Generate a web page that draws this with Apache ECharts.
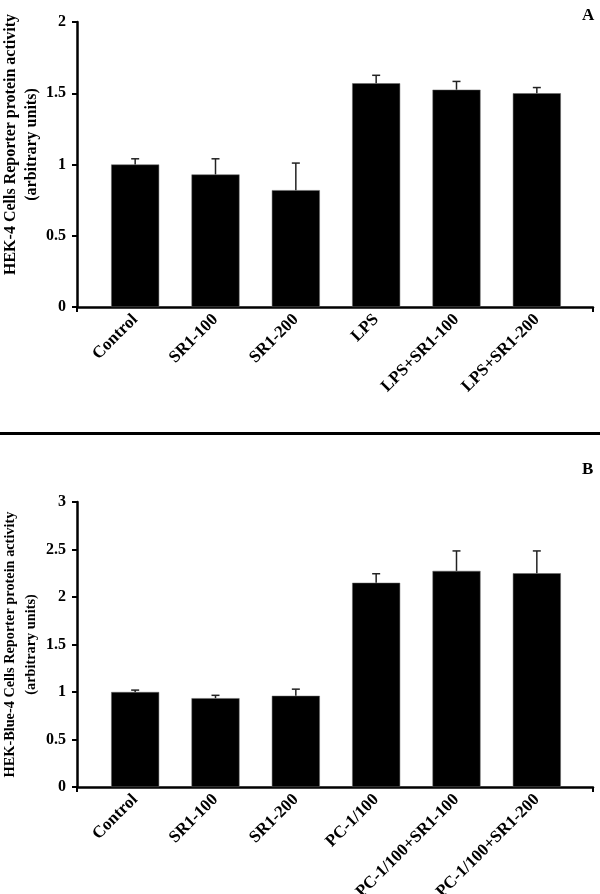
<!DOCTYPE html>
<html>
<head>
<meta charset="utf-8">
<script src="https://cdn.jsdelivr.net/npm/echarts@6/dist/echarts.min.js"></script>
<style>html,body{margin:0;padding:0;background:#fff}#c{width:600px;height:894px}</style>
</head>
<body>
<div id="c"></div>
<script>
// Panel A data
const categoriesA = ['Control', 'SR1-100', 'SR1-200', 'LPS', 'LPS+SR1-100', 'LPS+SR1-200'];
const valuesA = [1.00, 0.93, 0.82, 1.57, 1.525, 1.50];
const errorsA = [0.04, 0.11, 0.19, 0.056, 0.058, 0.04];
const yTicksA = { min: 0, max: 2, interval: 0.5 };
const yTitleA = 'HEK-4 Cells Reporter protein activity\n(arbitrary units)';

// Panel B data
const categoriesB = ['Control', 'SR1-100', 'SR1-200', 'PC-1/100', 'PC-1/100+SR1-100', 'PC-1/100+SR1-200'];
const valuesB = [1.00, 0.935, 0.96, 2.15, 2.275, 2.25];
const errorsB = [0.02, 0.03, 0.07, 0.095, 0.21, 0.235];
const yTicksB = { min: 0, max: 3, interval: 0.5 };
const yTitleB = 'HEK-Blue-4 Cells Reporter protein activity\n(arbitrary units)';

const FONT = '"Liberation Serif", "Times New Roman", serif';

function errorItem(params, api) {
  const x = api.value(0), v = api.value(1), e = api.value(2);
  const p0 = api.coord([x, v]);
  const p1 = api.coord([x, v + e]);
  const half = 4;
  const st = { stroke: '#222', lineWidth: 1.5 };
  return { type: 'group', children: [
    { type: 'line', shape: { x1: p0[0], y1: p0[1], x2: p1[0], y2: p1[1] }, style: st },
    { type: 'line', shape: { x1: p1[0] - half, y1: p1[1], x2: p1[0] + half, y2: p1[1] }, style: st }
  ]};
}

const frameX = (gi) => ({
  gridIndex: gi, type: 'value', min: 0, max: 1, interval: 1,
  axisLine: { show: true, lineStyle: { color: '#000', width: 2.5 } },
  axisTick: { show: true, length: 5, lineStyle: { color: '#000', width: 2 } },
  axisLabel: { show: false }, splitLine: { show: false }
});
const catX = (gi, cats) => ({
  gridIndex: gi, type: 'category', data: cats,
  axisLine: { show: false }, axisTick: { show: false },
  axisLabel: { interval: 0, rotate: 45, margin: 10, color: '#000', fontFamily: FONT, fontWeight: 'bold', fontSize: 17 }
});
const frameY = (gi, t, name, fs, pad) => ({
  gridIndex: gi, type: 'value', min: t.min, max: t.max, interval: t.interval,
  axisLine: { show: true, lineStyle: { color: '#000', width: 2.5 } },
  axisTick: { show: true, length: 5, lineStyle: { color: '#000', width: 2 } },
  axisLabel: { color: '#000', fontFamily: FONT, fontWeight: 'bold', fontSize: 16, margin: 11 },
  splitLine: { show: false },
  name: name, nameLocation: 'middle', nameRotate: 90, nameGap: 35, nameMoveOverlap: false,
  nameTextStyle: { color: '#000', fontFamily: FONT, fontWeight: 'bold', fontSize: fs, lineHeight: 21, padding: pad }
});
const hidY = (gi, t) => ({
  gridIndex: gi, type: 'value', min: t.min, max: t.max, interval: t.interval, show: false, splitLine: { show: false }
});

const option = {
  animation: false,
  backgroundColor: '#fff',
  grid: [
    { left: 77, top: 22, width: 516, height: 285, outerBoundsMode: 'none', containLabel: false },
    { left: 95, top: 22, width: 482, height: 285, outerBoundsMode: 'none', containLabel: false },
    { left: 77, top: 502, width: 516, height: 285, outerBoundsMode: 'none', containLabel: false },
    { left: 95, top: 502, width: 482, height: 285, outerBoundsMode: 'none', containLabel: false }
  ],
  xAxis: [frameX(0), catX(1, categoriesA), frameX(2), catX(3, categoriesB)],
  yAxis: [
    frameY(0, yTicksA, yTitleA, 16, [0, 0, 0, 40]),
    hidY(1, yTicksA),
    frameY(2, yTicksB, yTitleB, 14.3, 0),
    hidY(3, yTicksB)
  ],
  series: [
    { type: 'bar', xAxisIndex: 1, yAxisIndex: 1, data: valuesA, barWidth: 48,
      itemStyle: { color: '#000', borderColor: '#666', borderWidth: 0.5 } },
    { type: 'custom', xAxisIndex: 1, yAxisIndex: 1, renderItem: errorItem, z: 3,
      data: valuesA.map((v, i) => [i, v, errorsA[i]]) },
    { type: 'bar', xAxisIndex: 3, yAxisIndex: 3, data: valuesB, barWidth: 48,
      itemStyle: { color: '#000', borderColor: '#666', borderWidth: 0.5 } },
    { type: 'custom', xAxisIndex: 3, yAxisIndex: 3, renderItem: errorItem, z: 3,
      data: valuesB.map((v, i) => [i, v, errorsB[i]]) }
  ],
  graphic: [
    { type: 'line', shape: { x1: 0, y1: 433.5, x2: 600, y2: 433.5 }, style: { stroke: '#000', lineWidth: 3 } },
    { type: 'text', left: 582, top: 7, style: { text: 'A', font: 'bold 17px ' + FONT, fill: '#000' } },
    { type: 'text', left: 582, top: 461, style: { text: 'B', font: 'bold 17px ' + FONT, fill: '#000' } }
  ]
};

echarts.init(document.getElementById('c')).setOption(option);
</script>
</body>
</html>
